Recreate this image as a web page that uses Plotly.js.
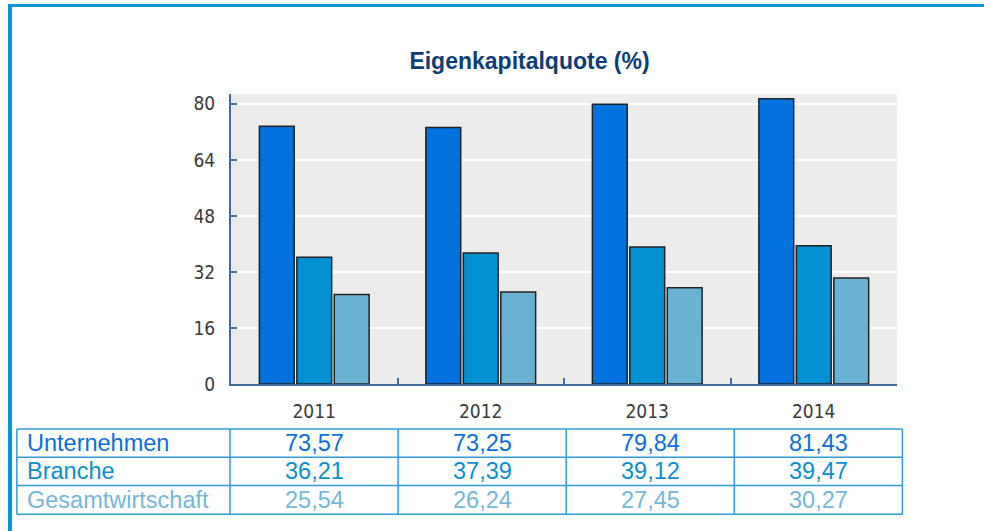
<!DOCTYPE html>
<html>
<head>
<meta charset="utf-8">
<script src="https://cdn.plot.ly/plotly-3.0.1.min.js"></script>
<style>
  html, body { margin: 0; padding: 0; background: #ffffff; overflow: hidden; }
  #chart { position: absolute; left: 0; top: 0; width: 984px; height: 531px; }
  #frame { position: absolute; left: 8px; top: 4px; width: 1100px; height: 700px;
           border-left: 4px solid #0b95d7; border-top: 3px solid #0b95d7; pointer-events: none; }
</style>
</head>
<body>
<div id="chart"></div>
<div id="frame"></div>
<script>
// ---- data ----
const years = ['2011', '2012', '2013', '2014'];
const seriesNames = ['Unternehmen', 'Branche', 'Gesamtwirtschaft'];
const unternehmen = [73.57, 73.25, 79.84, 81.43];
const branche = [36.21, 37.39, 39.12, 39.47];
const gesamtwirtschaft = [25.54, 26.24, 27.45, 30.27];
const yTicks = [0, 16, 32, 48, 64, 80];

// ---- styles ----
const seriesValues = [unternehmen, branche, gesamtwirtschaft];
const barColors = ['#0172de', '#0191d2', '#6ab2d4'];
const textColors = ['#0a6fdc', '#0a8fd0', '#74b7d8'];
const W = 984, H = 531;
const L = 231, R = 896.6, T = 93.5, B = 384.3;
const px2x = p => (p - L) / (R - L);
const px2y = p => (B - p) / (B - T);
const narrow = '"Liberation Sans Narrow", "Arial Narrow", "DejaVu Sans Condensed", sans-serif';
const sans = '"Liberation Sans", Arial, Helvetica, sans-serif';

const traces = seriesNames.map((name, i) => ({
  type: 'bar',
  name: name,
  x: years,
  y: seriesValues[i],
  marker: { color: barColors[i], line: { color: '#222', width: 1.5 } },
  hoverinfo: 'skip'
}));

// ---- table below chart ----
const rowLines = [429.3, 457.7, 486, 515];
const colLines = [17, 230, 398, 566, 734, 902];
const shapes = [];
rowLines.forEach(py => shapes.push({
  type: 'line', xref: 'paper', yref: 'paper',
  x0: px2x(colLines[0]), x1: px2x(colLines[colLines.length - 1]),
  y0: px2y(py), y1: px2y(py),
  line: { color: '#2e9bd8', width: 1.5 }
}));
colLines.forEach(px => shapes.push({
  type: 'line', xref: 'paper', yref: 'paper',
  x0: px2x(px), x1: px2x(px),
  y0: px2y(rowLines[0]), y1: px2y(rowLines[rowLines.length - 1]),
  line: { color: '#2e9bd8', width: 1.5 }
}));

const annotations = [];
const fmt = v => v.toFixed(2).replace('.', ',');
seriesNames.forEach((name, r) => {
  const cy = px2y((rowLines[r] + rowLines[r + 1]) / 2);
  annotations.push({
    xref: 'paper', yref: 'paper', x: px2x(colLines[0] + 8), y: cy,
    xanchor: 'left', yanchor: 'middle', showarrow: false,
    text: name, font: { family: sans, size: 23.5, color: textColors[r] }
  });
  seriesValues[r].forEach((v, c) => {
    annotations.push({
      xref: 'paper', yref: 'paper', x: px2x((colLines[c + 1] + colLines[c + 2]) / 2), y: cy,
      xanchor: 'center', yanchor: 'middle', showarrow: false,
      text: fmt(v), font: { family: sans, size: 23.5, color: textColors[r] }
    });
  });
});

const layout = {
  width: W, height: H,
  margin: { l: L, r: W - R, t: T, b: H - B, pad: 0 },
  paper_bgcolor: 'rgba(0,0,0,0)',
  plot_bgcolor: '#ececec',
  showlegend: false,
  barmode: 'group',
  bargap: 0.325,
  bargroupgap: 0.07,
  title: {
    text: '<b>Eigenkapitalquote (%)</b>',
    xref: 'container', yref: 'container',
    x: 529.5 / W, y: 1 - 61 / H, xanchor: 'center', yanchor: 'middle',
    font: { family: sans, size: 23, color: '#0d3d78' }
  },
  xaxis: {
    type: 'category',
    tickson: 'boundaries',
    ticks: 'inside', ticklen: 6, tickwidth: 2, tickcolor: '#3d6ea3',
    showline: true, linecolor: '#3d6ea3', linewidth: 1.5,
    showgrid: false, zeroline: false,
    ticklabelstandoff: 10,
    tickfont: { family: narrow, size: 19, color: '#3a3a3a' }
  },
  yaxis: {
    range: [0, 82.8],
    tickmode: 'array', tickvals: yTicks, ticktext: yTicks.map(String),
    ticks: 'inside', ticklen: 6, tickwidth: 2, tickcolor: '#3d6ea3',
    showline: true, linecolor: '#3d6ea3', linewidth: 2,
    showgrid: true, gridcolor: '#ffffff', gridwidth: 2,
    zeroline: false,
    ticklabelstandoff: 10,
    tickfont: { family: narrow, size: 19, color: '#3a3a3a' }
  },
  shapes: shapes,
  annotations: annotations
};

Plotly.newPlot('chart', traces, layout, { staticPlot: true, displayModeBar: false });
</script>
</body>
</html>
